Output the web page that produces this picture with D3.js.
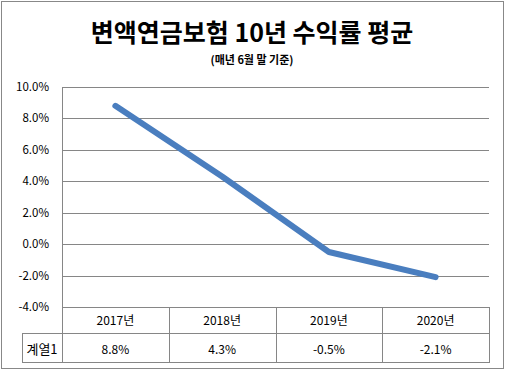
<!DOCTYPE html>
<html><head><meta charset="utf-8">
<script src="https://cdn.jsdelivr.net/npm/d3@7"></script>
<style>body{margin:0;background:#fff}svg{display:block}</style>
</head><body><svg id="c" width="505" height="371"></svg>
<script>
const categories = ["2017년","2018년","2019년","2020년"];
const values = [8.8, 4.3, -0.5, -2.1];
const seriesName = "계열1";
const yTicks = [10,8,6,4,2,0,-2,-4];
const title = "변액연금보험 10년 수익률 평균";
const subtitle = "(매년 6월 말 기준)";

(function(){
const svg = d3.select("#c");
const font = "'Noto Sans CJK KR', 'Noto Sans', sans-serif";
svg.append("rect").attr("x",1.5).attr("y",1.5).attr("width",502).attr("height",367)
  .attr("fill","#fff").attr("stroke","#888").attr("stroke-width",1);

svg.append("text").attr("x",252).attr("y",42).attr("text-anchor","middle")
  .attr("font-family",font).attr("font-weight","bold").attr("font-size",25).text(title);
svg.append("text").attr("x",252).attr("y",64).attr("text-anchor","middle")
  .attr("font-family",font).attr("font-weight","bold").attr("font-size",11).text(subtitle);

const pl=62, pr=489, pt=87, pb=307;
const x = d3.scaleBand().domain(categories).range([pl,pr]);
const y = d3.scaleLinear().domain([-4,10]).range([pb,pt]);

svg.append("g").selectAll("line").data(yTicks).join("line")
  .attr("x1",pl).attr("x2",pr).attr("y1",d=>Math.round(y(d))+0.5).attr("y2",d=>Math.round(y(d))+0.5)
  .attr("stroke","#868686");
svg.append("line").attr("x1",pl+0.5).attr("x2",pl+0.5).attr("y1",pt).attr("y2",362).attr("stroke","#868686");

svg.append("g").selectAll("text").data(yTicks).join("text")
  .attr("x",49).attr("y",d=>y(d)+4).attr("text-anchor","end")
  .attr("font-family",font).attr("font-size",11.5).text(d=>d.toFixed(1)+"%");

const line = d3.line().x(d=>x(d.c)+x.bandwidth()/2).y(d=>y(d.v));
svg.append("path").datum(categories.map((c,i)=>({c,v:values[i]})))
  .attr("d",line).attr("fill","none").attr("stroke","#4a7ebf").attr("stroke-width",6)
  .attr("stroke-linecap","round").attr("stroke-linejoin","round");

const rowMid=333, rowBot=362, labelLeft=22;
const tb = svg.append("g").attr("stroke","#868686").attr("fill","none");
const bounds = categories.map(c=>x(c)).concat([pr]);
bounds.forEach(b=>{ tb.append("line").attr("x1",Math.round(b)+0.5).attr("x2",Math.round(b)+0.5).attr("y1",pb).attr("y2",rowBot); });
tb.append("line").attr("x1",labelLeft).attr("x2",pr).attr("y1",rowMid+0.5).attr("y2",rowMid+0.5);
tb.append("line").attr("x1",labelLeft).attr("x2",pr+1).attr("y1",rowBot+0.5).attr("y2",rowBot+0.5);
tb.append("line").attr("x1",labelLeft+0.5).attr("x2",labelLeft+0.5).attr("y1",rowMid).attr("y2",rowBot);

svg.append("g").selectAll("text").data(categories).join("text")
  .attr("x",d=>x(d)+x.bandwidth()/2).attr("y",325).attr("text-anchor","middle")
  .attr("font-family",font).attr("font-size",12).text(d=>d);
svg.append("g").selectAll("text").data(values).join("text")
  .attr("x",(d,i)=>x(categories[i])+x.bandwidth()/2).attr("y",354).attr("text-anchor","middle")
  .attr("font-family",font).attr("font-size",12).text(d=>d.toFixed(1)+"%");
svg.append("text").attr("x",42).attr("y",354).attr("text-anchor","middle")
  .attr("font-family",font).attr("font-size",13).text(seriesName);
})();
</script></body></html>
